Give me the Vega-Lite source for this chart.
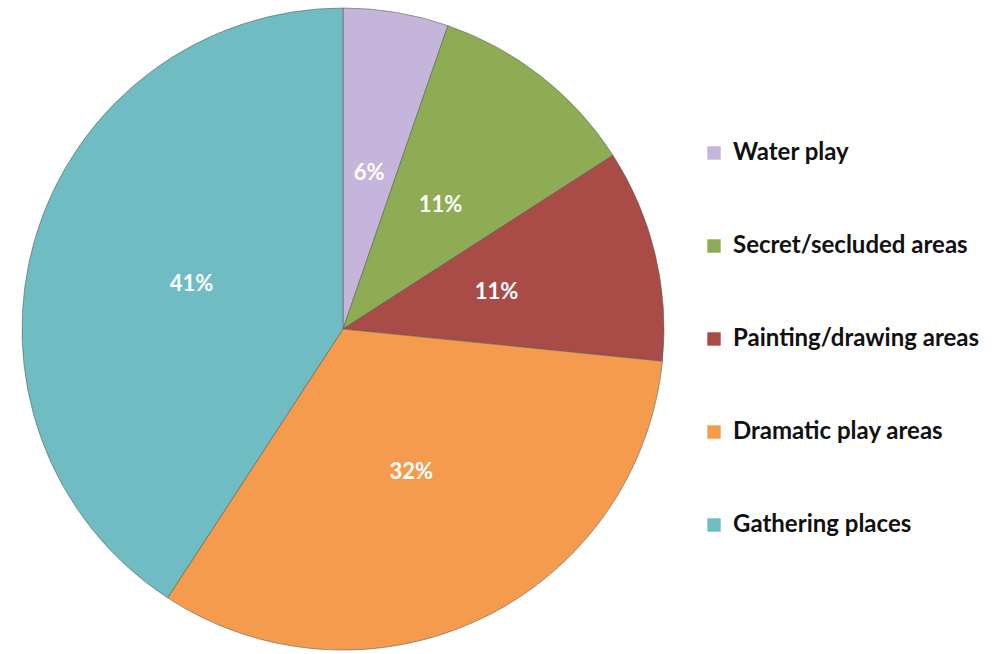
{
  "$schema": "https://vega.github.io/schema/vega-lite/v6.json",
  "width": 1001,
  "height": 654,
  "padding": 0,
  "autosize": {"type": "none"},
  "background": "white",
  "config": {"view": {"stroke": null}},
  "data": {
    "values": [
      {"category": "Water play", "value": 5.3, "label": "6%"},
      {"category": "Secret/secluded areas", "value": 10.6, "label": "11%"},
      {"category": "Painting/drawing areas", "value": 10.7, "label": "11%"},
      {"category": "Dramatic play areas", "value": 32.6, "label": "32%"},
      {"category": "Gathering places", "value": 40.8, "label": "41%"}
    ]
  },
  "encoding": {
    "theta": {"field": "value", "type": "quantitative", "stack": true},
    "order": {"field": "value", "type": "quantitative", "sort": "ascending"},
    "color": {
      "field": "category",
      "type": "nominal",
      "scale": {
        "domain": ["Water play", "Secret/secluded areas", "Painting/drawing areas", "Dramatic play areas", "Gathering places"],
        "range": ["#C6B5DA", "#8EAC54", "#A94C48", "#F49B4D", "#6FBDC2"]
      },
      "legend": {
        "title": null,
        "orient": "none",
        "legendX": 702,
        "legendY": 141,
        "symbolType": "square",
        "symbolSize": 180,
        "symbolStrokeWidth": 0,
        "labelFont": "Lato",
        "labelFontWeight": "bold",
        "labelFontSize": 24,
        "labelColor": "#111111",
        "labelOffset": 7,
        "labelLimit": 400,
        "rowPadding": 69
      }
    }
  },
  "layer": [
    {
      "mark": {"type": "arc", "x": 343, "y": 329, "radius": 321, "stroke": "#5a5a5a", "strokeWidth": 1, "strokeOpacity": 0.55}
    },
    {
      "mark": {"type": "text", "x": 343, "y": 329, "radius": 158, "font": "Lato", "fontWeight": "bold", "fontSize": 22, "fill": "white"},
      "encoding": {
        "text": {"field": "label", "type": "nominal"},
        "color": {"value": "white"}
      }
    }
  ]
}
